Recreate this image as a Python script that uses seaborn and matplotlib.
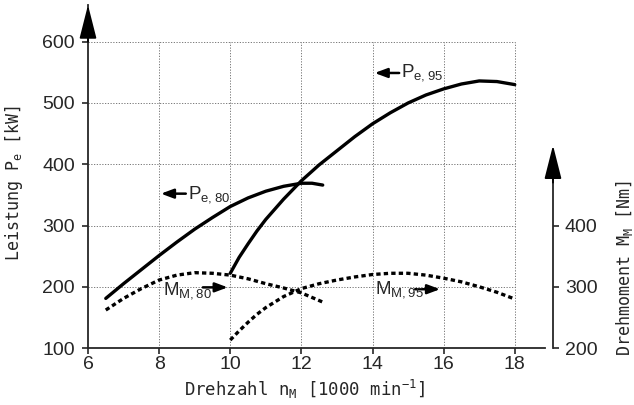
import numpy as np
import pandas as pd
import matplotlib
matplotlib.use('Agg')
import matplotlib.pyplot as plt
import seaborn as sns

# Leistung (kW) und Drehmoment (Nm) ueber Drehzahl (1000 min^-1)
n_p80 = [6.5, 7, 7.5, 8, 8.5, 9, 9.5, 10, 10.5, 11, 11.5, 12, 12.3, 12.6]
p_80 = [181, 205, 228, 251, 273, 294, 313, 331, 345, 356, 364, 369, 369, 366]

n_p95 = [10, 10.25, 10.5, 10.75, 11, 11.5, 12, 12.5, 13, 13.5, 14, 14.5,
         15, 15.5, 16, 16.5, 17, 17.5, 18]
p_95 = [222, 248, 270, 291, 310, 343, 373, 399, 422, 445, 466, 484,
        500, 513, 523, 531, 536, 535, 530]

n_m80 = [6.5, 7, 7.5, 8, 8.5, 9, 9.5, 10, 10.5, 11, 11.5, 12, 12.6]
m_80 = [262, 281, 297, 311, 319, 323, 322, 319, 313, 305, 298, 290, 275]

n_m95 = [10, 10.25, 10.5, 10.75, 11, 11.5, 12, 12.5, 13, 13.5, 14, 14.5,
         15, 15.5, 16, 16.5, 17, 17.5, 18]
m_95 = [213, 228, 242, 255, 266, 284, 297, 305, 311, 316, 320, 322,
        322, 319, 314, 308, 300, 291, 280]

x_ticks = [6, 8, 10, 12, 14, 16, 18]
p_ticks = [100, 200, 300, 400, 500, 600]
m_ticks = [200, 300, 400]

sns.set_style('ticks')
plt.rcParams['font.family'] = ['Liberation Sans', 'DejaVu Sans']
plt.rcParams['mathtext.default'] = 'regular'
mono = 'DejaVu Sans Mono'

fig = plt.figure(figsize=(6.34, 4.05), dpi=100)
ax = fig.add_axes([0.1388, 0.1407, 0.7208, 0.847])
ax2 = ax.twinx()

# Gitter nur innerhalb 6..18 / 100..600
ax.hlines(p_ticks[1:], x_ticks[0], x_ticks[-1], colors='0.4', lw=0.6,
          linestyles=(0, (1.5, 1.8)), zorder=0)
ax.vlines(x_ticks[1:], p_ticks[0], p_ticks[-1], colors='0.4', lw=0.6,
          linestyles=(0, (1.5, 1.8)), zorder=0)

# Leistungskurven
sns.lineplot(x=n_p80, y=p_80, ax=ax, color='k', lw=2.4)
sns.lineplot(x=n_p95, y=p_95, ax=ax, color='k', lw=2.4)

# Drehmomentkurven (gestrichelt)
dash = (0, (1.3, 0.95))
sns.lineplot(x=n_m80, y=m_80, ax=ax2, color='k', lw=2.4, linestyle=dash)
sns.lineplot(x=n_m95, y=m_95, ax=ax2, color='k', lw=2.4, linestyle=dash)

ax.set_xlim(6, 18.85)
ax.set_ylim(100, 660)
ax2.set_ylim(200, 760)

ax.set_xticks(x_ticks)
ax.set_yticks(p_ticks)
ax2.set_yticks(m_ticks)
ax.tick_params(labelsize=14, length=4.5, width=1.2, direction='out')
ax.tick_params(axis='y', pad=5)
ax.tick_params(axis='x', pad=1.5)
ax2.tick_params(labelsize=14, length=4.5, width=1.2, direction='out', pad=4)

for s in ['top', 'right']:
    ax.spines[s].set_visible(False)
for s in ['top', 'left', 'bottom']:
    ax2.spines[s].set_visible(False)
ax.spines['left'].set_linewidth(1.3)
ax.spines['bottom'].set_linewidth(1.3)
ax2.spines['right'].set_linewidth(1.3)
ax2.spines['right'].set_position(('axes', 1.0175))
ax2.spines['right'].set_bounds(200, 500)

# Pfeile an den Achsen
head = dict(arrowstyle='-|>,head_length=1.5,head_width=0.38', mutation_scale=14,
            lw=1.3, color='k', shrinkA=0, shrinkB=0)
ax.annotate('', xy=(0, 660), xytext=(0, 600), xycoords=('axes fraction', 'data'),
            arrowprops=head, annotation_clip=False)
ax2.annotate('', xy=(1.0175, 531), xytext=(1.0175, 470),
             xycoords=('axes fraction', 'data'), arrowprops=head, annotation_clip=False)

# Kurvenbeschriftungen
small = dict(arrowstyle='-|>,head_length=0.75,head_width=0.28', mutation_scale=10,
             lw=1.8, color='k', shrinkA=0, shrinkB=0)
ax.annotate('', xy=(8.05, 352), xytext=(8.75, 352), arrowprops=small)
ax.text(8.8, 351, r'$P_{e,80}$', fontsize=13.5, va='center', ha='left')
ax.annotate('', xy=(14.06, 549), xytext=(14.75, 549), arrowprops=small)
ax.text(14.8, 549, r'$P_{e,95}$', fontsize=13.5, va='center', ha='left')
ax2.annotate('', xy=(9.93, 299), xytext=(9.23, 299), arrowprops=small)
ax2.text(8.1, 294, r'$M_{M,80}$', fontsize=13.5, va='center', ha='left')
ax2.annotate('', xy=(15.9, 296), xytext=(15.2, 296), arrowprops=small)
ax2.text(14.06, 296, r'$M_{M,95}$', fontsize=13.5, va='center', ha='left')

ax.set_xlabel(r'Drehzahl $n_M$ [1000 min$^{-1}$]', family=mono, fontsize=12.5)
ax.set_ylabel(r'Leistung $P_e$ [kW]', family=mono, fontsize=12)
ax2.set_ylabel(r'Drehmoment $M_M$ [Nm]', family=mono, fontsize=12)
ax.xaxis.set_label_coords(0.473, -0.088)
ax.yaxis.set_label_coords(-0.138, 0.48)
ax2.yaxis.set_label_coords(1.152, 0.233)

fig.savefig('out.png', dpi=100)
